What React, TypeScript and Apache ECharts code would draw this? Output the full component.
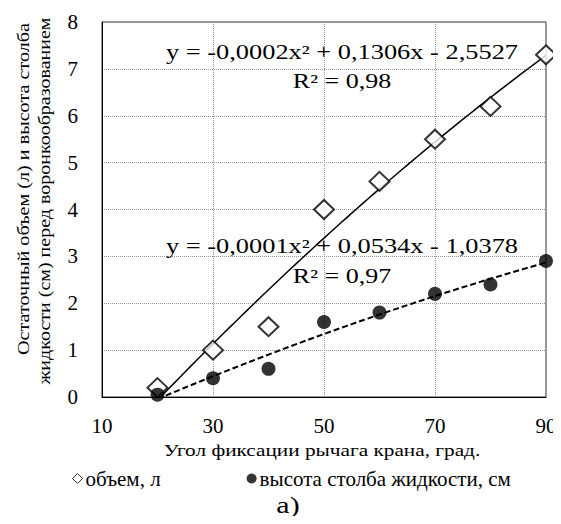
import React, { useEffect, useRef } from "react";
import * as echarts from "echarts";

const angles = [20, 30, 40, 50, 60, 70, 80, 90];
const volume = [0.2, 1.0, 1.5, 4.0, 4.6, 5.5, 6.2, 7.3];
const height = [0.05, 0.4, 0.6, 1.6, 1.8, 2.2, 2.4, 2.9];
const seriesNames = ["объем, л", "высота столба жидкости, см"];
const eqVolume = "y = -0,0002x\u00b2 + 0,1306x - 2,5527";
const r2Volume = "R\u00b2 = 0,98";
const eqHeight = "y = -0,0001x\u00b2 + 0,0534x - 1,0378";
const r2Height = "R\u00b2 = 0,97";
const yTitle1 = "Остаточный объем (л) и высота столба";
const yTitle2 = "жидкости (см) перед воронкообразованием";
const xTitle = "Угол фиксации рычага крана, град.";
const caption = "а)";

function quadFit(xs: number[], ys: number[]) {
  const s = [0, 0, 0, 0, 0];
  const t = [0, 0, 0];
  for (let i = 0; i < xs.length; i++) {
    const x = xs[i];
    const y = ys[i];
    for (let k = 0; k < 5; k++) s[k] += Math.pow(x, k);
    for (let k = 0; k < 3; k++) t[k] += y * Math.pow(x, k);
  }
  const M = [
    [s[0], s[1], s[2], t[0]],
    [s[1], s[2], s[3], t[1]],
    [s[2], s[3], s[4], t[2]],
  ];
  for (let i = 0; i < 3; i++) {
    let p = i;
    for (let r = i + 1; r < 3; r++) if (Math.abs(M[r][i]) > Math.abs(M[p][i])) p = r;
    [M[i], M[p]] = [M[p], M[i]];
    for (let r = 0; r < 3; r++) {
      if (r === i) continue;
      const f = M[r][i] / M[i][i];
      for (let c = i; c < 4; c++) M[r][c] -= f * M[i][c];
    }
  }
  const a = M[0][3] / M[0][0];
  const b = M[1][3] / M[1][1];
  const c = M[2][3] / M[2][2];
  const pts: number[][] = [];
  for (let x = xs[0]; x <= xs[xs.length - 1]; x += 1) {
    pts.push([x, a + b * x + c * x * x]);
  }
  return pts;
}

export default function App() {
  const ref = useRef<HTMLDivElement>(null);
  useEffect(() => {
    if (!ref.current) return;
    const chart = echarts.init(ref.current, undefined, { renderer: "svg" });
    const font = "Liberation Serif";
    const txt = (text: string, x: number, y: number, size: number, sx = 1, rot = 0) => ({
      type: "text",
      x,
      y,
      rotation: rot,
      scaleX: sx,
      z: 10,
      style: { text, fontSize: size, fontFamily: font, fill: "#000", align: "center", verticalAlign: "middle" },
    });
    chart.setOption({
      animation: false,
      backgroundColor: "#fff",
      grid: { left: 102, right: 15, top: 22, bottom: 127, show: true, borderColor: "#333", borderWidth: 1 },
      xAxis: {
        type: "value",
        min: 10,
        max: 90,
        interval: 20,
        axisLine: { show: true, lineStyle: { color: "#000" } },
        axisTick: { show: false },
        axisLabel: { fontSize: 21, color: "#000", fontFamily: font, margin: 18 },
        splitLine: { show: true, lineStyle: { color: "#999", type: "dotted" } },
      },
      yAxis: {
        type: "value",
        min: 0,
        max: 8,
        interval: 1,
        axisLine: { show: true, lineStyle: { color: "#000" } },
        axisTick: { show: false },
        axisLabel: { fontSize: 21, color: "#000", fontFamily: font, margin: 24 },
        splitLine: { show: true, lineStyle: { color: "#999", type: "dotted" } },
      },
      legend: {
        left: 72,
        top: 468,
        padding: 0,
        itemGap: 86,
        itemWidth: 10,
        itemHeight: 10,
        textStyle: { fontSize: 21, fontFamily: font, color: "#000", padding: [0, 0, 0, -2] },
        data: [
          { name: seriesNames[0], icon: "diamond", itemStyle: { color: "#fff", borderColor: "#000", borderWidth: 1 } },
          { name: seriesNames[1], icon: "circle", itemStyle: { color: "#000" } },
        ],
      },
      series: [
        {
          type: "line",
          name: "trend1",
          data: quadFit(angles, volume),
          showSymbol: false,
          symbol: "none",
          lineStyle: { color: "#000", width: 1.5 },
          z: 2,
        },
        {
          type: "line",
          name: "trend2",
          data: quadFit(angles, height),
          showSymbol: false,
          symbol: "none",
          lineStyle: { color: "#000", width: 2, type: [6, 3] },
          z: 2,
        },
        {
          type: "scatter",
          name: seriesNames[0],
          data: angles.map((x, i) => [x, volume[i]]),
          symbol: "diamond",
          symbolSize: [20, 19],
          itemStyle: { color: "#fff", borderColor: "#000", borderWidth: 2 },
          z: 3,
        },
        {
          type: "scatter",
          name: seriesNames[1],
          data: angles.map((x, i) => [x, height[i]]),
          symbol: "circle",
          symbolSize: 14,
          itemStyle: { color: "#000" },
          z: 4,
        },
      ],
      graphic: [
        txt(yTitle1, 24, 189, 16, 1.26, Math.PI / 2),
        txt(yTitle2, 45, 201, 16, 1.25, Math.PI / 2),
        txt(eqVolume, 342, 52, 20, 1.32),
        txt(r2Volume, 342, 81, 20, 1.3),
        txt(eqHeight, 342, 246, 20, 1.32),
        txt(r2Height, 342, 276, 20, 1.3),
        txt(xTitle, 322, 450, 16, 1.33),
        txt(caption, 288, 505, 24, 1.25),
      ],
    });
    return () => chart.dispose();
  }, []);
  return <div ref={ref} style={{ width: 561, height: 524, margin: -8 }} />;
}
